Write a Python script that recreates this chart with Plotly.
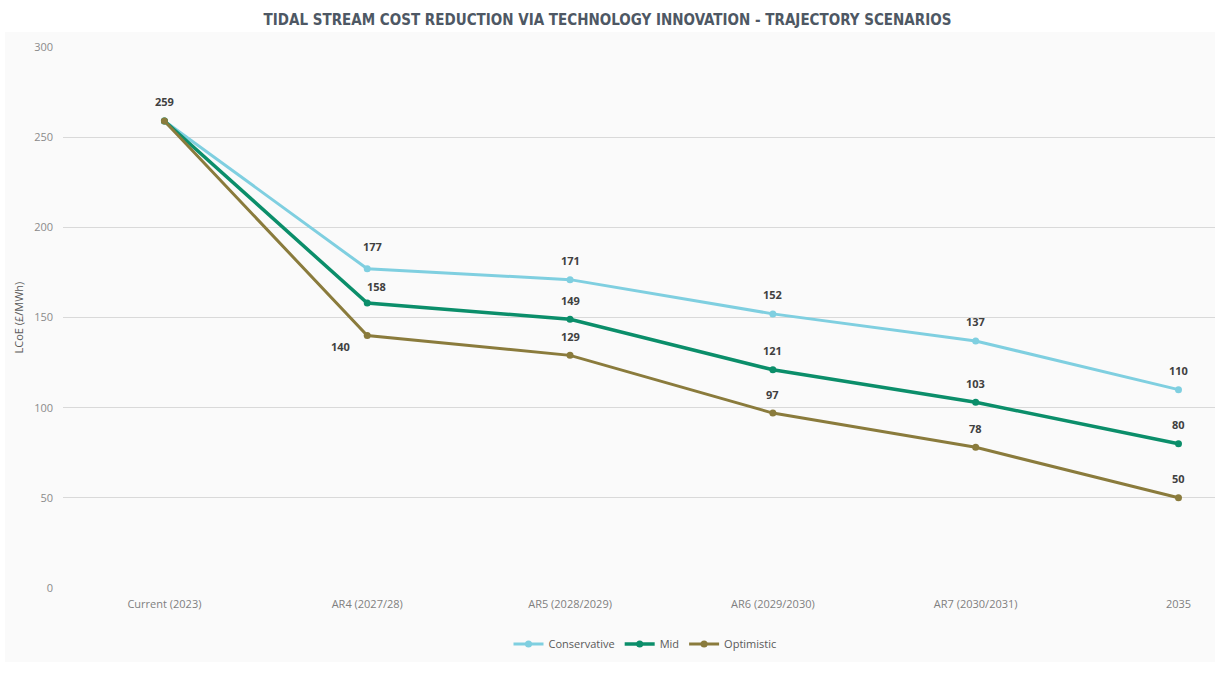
import plotly.graph_objects as go

categories = ["Current (2023)", "AR4 (2027/28)", "AR5 (2028/2029)", "AR6 (2029/2030)", "AR7 (2030/2031)", "2035"]
conservative = [259, 177, 171, 152, 137, 110]
mid = [259, 158, 149, 121, 103, 80]
optimistic = [259, 140, 129, 97, 78, 50]

series_names = ["Conservative", "Mid", "Optimistic"]
series_values = [conservative, mid, optimistic]
series_colors = ["#7fcfe0", "#0b8e6a", "#8a7b3c"]
series_widths = [3, 3.5, 3]

# label visibility per series (259 shown once)
label_show = [
    [False, True, True, True, True, True],
    [False, True, True, True, True, True],
    [True, True, True, True, True, True],
]

fig = go.Figure()
for name, vals, col, w in zip(series_names, series_values, series_colors, series_widths):
    fig.add_trace(go.Scatter(
        x=categories, y=vals, name=name, mode="lines+markers",
        line=dict(color=col, width=w),
        marker=dict(color=col, size=7),
    ))

annotations = []
for si, (vals, show) in enumerate(zip(series_values, label_show)):
    for i, v in enumerate(vals):
        if not show[i]:
            continue
        xs, ys = 0, 19
        if si == 2 and i == 1:
            xs, ys = -27, -11
        elif si == 1 and i == 1:
            xs, ys = 9, 17
        elif si == 0 and i == 1:
            xs, ys = 5, 22
        annotations.append(dict(
            x=i, y=v, xref="x", yref="y", text=f"<b>{v}</b>", showarrow=False,
            xshift=xs, yshift=ys,
            font=dict(family="Open Sans, DejaVu Sans", size=11, color="#404040"),
        ))

annotations.append(dict(
    x=(18 - 63) / 1152, y=0.5, xref="paper", yref="paper", text="LCoE (£/MWh)",
    textangle=-90, showarrow=False, xanchor="center", yanchor="middle",
    font=dict(family="Open Sans, DejaVu Sans", size=11, color="#595959"),
))

fig.update_layout(
    width=1215, height=678,
    margin=dict(l=63, r=0, t=47, b=90),
    paper_bgcolor="white", plot_bgcolor="rgba(0,0,0,0)",
    title=dict(
        text="TIDAL STREAM COST REDUCTION VIA TECHNOLOGY INNOVATION - TRAJECTORY SCENARIOS",
        x=0.5, xanchor="center", y=1 - 20 / 678, yanchor="middle",
        font=dict(family="DejaVu Sans Condensed", size=15, color="#4e5864", weight="bold"),
    ),
    xaxis=dict(
        type="category", range=[-0.5, 5.18], showgrid=False, zeroline=False,
        showline=False, ticks="", ticklabelstandoff=8,
        tickfont=dict(family="Open Sans, DejaVu Sans", size=11, color="#7f7f7f"),
    ),
    yaxis=dict(
        range=[0, 300], dtick=50, showgrid=True, gridcolor="#d9d9d9", gridwidth=1,
        zeroline=False, showline=False, ticks="", ticklabelstandoff=9,
        tickfont=dict(family="Open Sans, DejaVu Sans", size=11, color="#8a8a8a"),
    ),
    legend=dict(
        orientation="h", x=(645 - 63) / 1152, xanchor="center",
        y=(588 - 644) / 541, yanchor="middle", bgcolor="rgba(0,0,0,0)",
        font=dict(family="Open Sans, DejaVu Sans", size=11, color="#595959"),
        itemwidth=30, tracegroupgap=0,
    ),
    annotations=annotations,
    shapes=[dict(
        type="rect", xref="paper", yref="paper", layer="below",
        x0=(5 - 63) / 1152, x1=1.0, y0=(588 - 662) / 541, y1=(588 - 32) / 541,
        fillcolor="#fafafa", line=dict(width=0),
    )],
    showlegend=True,
)

fig.write_html("out.html")
